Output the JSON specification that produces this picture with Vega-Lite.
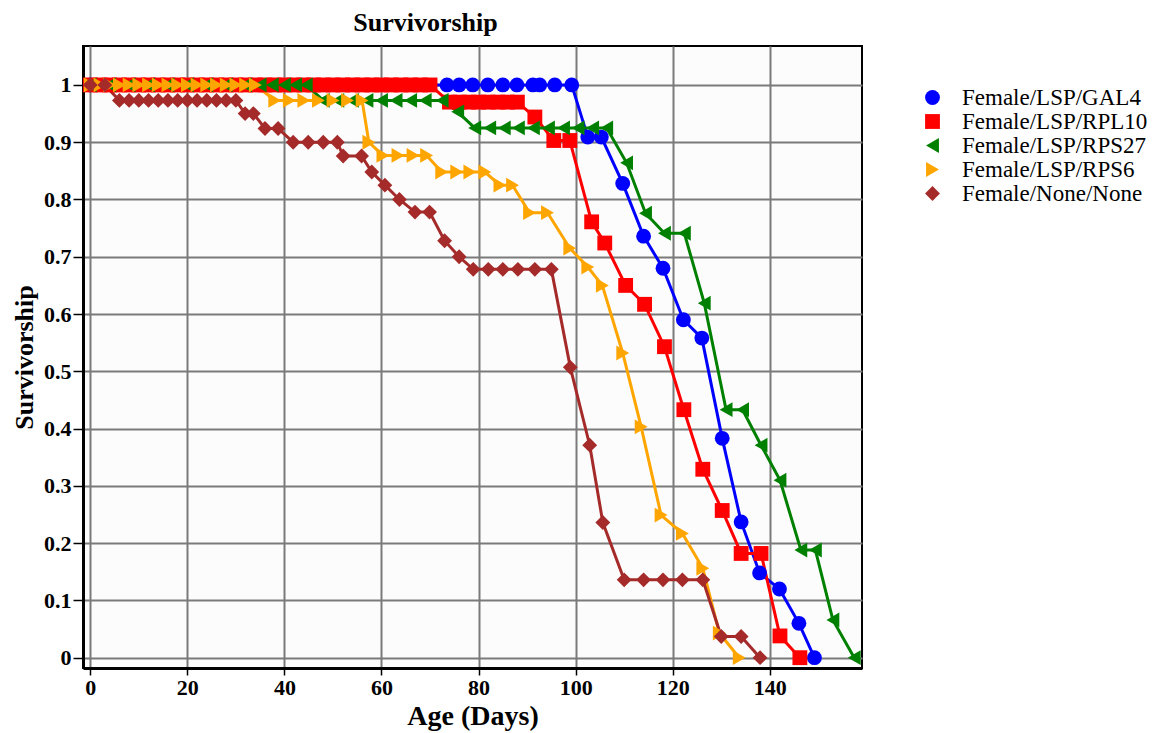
{
  "$schema": "https://vega.github.io/schema/vega-lite/v6.json",
  "autosize": "none",
  "width": 779,
  "height": 622,
  "padding": {"left": 83, "top": 46, "right": 305, "bottom": 65},
  "background": "white",
  "title": {"text": "Survivorship", "font": "Liberation Serif", "fontSize": 26, "fontWeight": "bold", "color": "black", "anchor": "middle", "dx": -47, "offset": 10},
  "config": {
    "view": {"stroke": "black", "strokeWidth": 2, "fill": "#FCFCFC"},
    "axis": {"labelFont": "Liberation Serif", "labelFontWeight": "bold", "labelColor": "black", "titleFont": "Liberation Serif", "titleFontWeight": "bold", "titleColor": "black", "domainColor": "black", "domainWidth": 3, "tickColor": "black", "tickWidth": 1.5, "gridColor": "#7a7a7a", "gridWidth": 2, "gridOpacity": 1}
  },
  "datasets": {
    "surv": [
      {"g": "Female/LSP/GAL4", "x": 0, "y": 1},
      {"g": "Female/LSP/GAL4", "x": 73.5, "y": 1},
      {"g": "Female/LSP/GAL4", "x": 76, "y": 1},
      {"g": "Female/LSP/GAL4", "x": 78.8, "y": 1},
      {"g": "Female/LSP/GAL4", "x": 81.9, "y": 1},
      {"g": "Female/LSP/GAL4", "x": 85, "y": 1},
      {"g": "Female/LSP/GAL4", "x": 87.9, "y": 1},
      {"g": "Female/LSP/GAL4", "x": 91.2, "y": 1},
      {"g": "Female/LSP/GAL4", "x": 92.6, "y": 1},
      {"g": "Female/LSP/GAL4", "x": 95.7, "y": 1},
      {"g": "Female/LSP/GAL4", "x": 99.2, "y": 1},
      {"g": "Female/LSP/GAL4", "x": 102.5, "y": 0.909},
      {"g": "Female/LSP/GAL4", "x": 105.3, "y": 0.909},
      {"g": "Female/LSP/GAL4", "x": 109.7, "y": 0.828},
      {"g": "Female/LSP/GAL4", "x": 114, "y": 0.736},
      {"g": "Female/LSP/GAL4", "x": 118, "y": 0.68},
      {"g": "Female/LSP/GAL4", "x": 122.2, "y": 0.59},
      {"g": "Female/LSP/GAL4", "x": 126, "y": 0.558},
      {"g": "Female/LSP/GAL4", "x": 130.2, "y": 0.383},
      {"g": "Female/LSP/GAL4", "x": 134.1, "y": 0.237},
      {"g": "Female/LSP/GAL4", "x": 137.9, "y": 0.148},
      {"g": "Female/LSP/GAL4", "x": 142, "y": 0.12},
      {"g": "Female/LSP/GAL4", "x": 146, "y": 0.06},
      {"g": "Female/LSP/GAL4", "x": 149.2, "y": 0},

      {"g": "Female/LSP/RPL10", "x": 0, "y": 1},
      {"g": "Female/LSP/RPL10", "x": 2, "y": 1},
      {"g": "Female/LSP/RPL10", "x": 4, "y": 1},
      {"g": "Female/LSP/RPL10", "x": 6, "y": 1},
      {"g": "Female/LSP/RPL10", "x": 8, "y": 1},
      {"g": "Female/LSP/RPL10", "x": 10, "y": 1},
      {"g": "Female/LSP/RPL10", "x": 12, "y": 1},
      {"g": "Female/LSP/RPL10", "x": 14, "y": 1},
      {"g": "Female/LSP/RPL10", "x": 16, "y": 1},
      {"g": "Female/LSP/RPL10", "x": 18, "y": 1},
      {"g": "Female/LSP/RPL10", "x": 20, "y": 1},
      {"g": "Female/LSP/RPL10", "x": 22, "y": 1},
      {"g": "Female/LSP/RPL10", "x": 24, "y": 1},
      {"g": "Female/LSP/RPL10", "x": 26, "y": 1},
      {"g": "Female/LSP/RPL10", "x": 28, "y": 1},
      {"g": "Female/LSP/RPL10", "x": 30, "y": 1},
      {"g": "Female/LSP/RPL10", "x": 32, "y": 1},
      {"g": "Female/LSP/RPL10", "x": 34, "y": 1},
      {"g": "Female/LSP/RPL10", "x": 36, "y": 1},
      {"g": "Female/LSP/RPL10", "x": 38, "y": 1},
      {"g": "Female/LSP/RPL10", "x": 40, "y": 1},
      {"g": "Female/LSP/RPL10", "x": 42, "y": 1},
      {"g": "Female/LSP/RPL10", "x": 44, "y": 1},
      {"g": "Female/LSP/RPL10", "x": 46, "y": 1},
      {"g": "Female/LSP/RPL10", "x": 48, "y": 1},
      {"g": "Female/LSP/RPL10", "x": 50, "y": 1},
      {"g": "Female/LSP/RPL10", "x": 52, "y": 1},
      {"g": "Female/LSP/RPL10", "x": 54, "y": 1},
      {"g": "Female/LSP/RPL10", "x": 56, "y": 1},
      {"g": "Female/LSP/RPL10", "x": 58, "y": 1},
      {"g": "Female/LSP/RPL10", "x": 60, "y": 1},
      {"g": "Female/LSP/RPL10", "x": 62, "y": 1},
      {"g": "Female/LSP/RPL10", "x": 64, "y": 1},
      {"g": "Female/LSP/RPL10", "x": 66, "y": 1},
      {"g": "Female/LSP/RPL10", "x": 68, "y": 1},
      {"g": "Female/LSP/RPL10", "x": 70, "y": 1},
      {"g": "Female/LSP/RPL10", "x": 74, "y": 0.97},
      {"g": "Female/LSP/RPL10", "x": 76, "y": 0.97},
      {"g": "Female/LSP/RPL10", "x": 78, "y": 0.97},
      {"g": "Female/LSP/RPL10", "x": 80, "y": 0.97},
      {"g": "Female/LSP/RPL10", "x": 82, "y": 0.97},
      {"g": "Female/LSP/RPL10", "x": 84, "y": 0.97},
      {"g": "Female/LSP/RPL10", "x": 86, "y": 0.97},
      {"g": "Female/LSP/RPL10", "x": 88, "y": 0.97},
      {"g": "Female/LSP/RPL10", "x": 91.6, "y": 0.944},
      {"g": "Female/LSP/RPL10", "x": 95.5, "y": 0.903},
      {"g": "Female/LSP/RPL10", "x": 98.8, "y": 0.903},
      {"g": "Female/LSP/RPL10", "x": 103.3, "y": 0.761},
      {"g": "Female/LSP/RPL10", "x": 106, "y": 0.724},
      {"g": "Female/LSP/RPL10", "x": 110.3, "y": 0.65},
      {"g": "Female/LSP/RPL10", "x": 114.2, "y": 0.617},
      {"g": "Female/LSP/RPL10", "x": 118.3, "y": 0.543},
      {"g": "Female/LSP/RPL10", "x": 122.3, "y": 0.433},
      {"g": "Female/LSP/RPL10", "x": 126.2, "y": 0.329},
      {"g": "Female/LSP/RPL10", "x": 130.2, "y": 0.257},
      {"g": "Female/LSP/RPL10", "x": 134.1, "y": 0.182},
      {"g": "Female/LSP/RPL10", "x": 138.2, "y": 0.182},
      {"g": "Female/LSP/RPL10", "x": 142.1, "y": 0.038},
      {"g": "Female/LSP/RPL10", "x": 146.2, "y": 0},

      {"g": "Female/LSP/RPS27", "x": 0, "y": 1},
      {"g": "Female/LSP/RPS27", "x": 4, "y": 1},
      {"g": "Female/LSP/RPS27", "x": 8, "y": 1},
      {"g": "Female/LSP/RPS27", "x": 12, "y": 1},
      {"g": "Female/LSP/RPS27", "x": 16, "y": 1},
      {"g": "Female/LSP/RPS27", "x": 20, "y": 1},
      {"g": "Female/LSP/RPS27", "x": 24, "y": 1},
      {"g": "Female/LSP/RPS27", "x": 28, "y": 1},
      {"g": "Female/LSP/RPS27", "x": 32, "y": 1},
      {"g": "Female/LSP/RPS27", "x": 35, "y": 1},
      {"g": "Female/LSP/RPS27", "x": 37.5, "y": 1},
      {"g": "Female/LSP/RPS27", "x": 40, "y": 1},
      {"g": "Female/LSP/RPS27", "x": 42.3, "y": 1},
      {"g": "Female/LSP/RPS27", "x": 44.5, "y": 1},
      {"g": "Female/LSP/RPS27", "x": 48, "y": 0.973},
      {"g": "Female/LSP/RPS27", "x": 51, "y": 0.973},
      {"g": "Female/LSP/RPS27", "x": 54, "y": 0.973},
      {"g": "Female/LSP/RPS27", "x": 57, "y": 0.973},
      {"g": "Female/LSP/RPS27", "x": 60, "y": 0.973},
      {"g": "Female/LSP/RPS27", "x": 63, "y": 0.973},
      {"g": "Female/LSP/RPS27", "x": 66, "y": 0.973},
      {"g": "Female/LSP/RPS27", "x": 69, "y": 0.973},
      {"g": "Female/LSP/RPS27", "x": 72.5, "y": 0.973},
      {"g": "Female/LSP/RPS27", "x": 75.7, "y": 0.953},
      {"g": "Female/LSP/RPS27", "x": 79.2, "y": 0.925},
      {"g": "Female/LSP/RPS27", "x": 82.3, "y": 0.925},
      {"g": "Female/LSP/RPS27", "x": 85.3, "y": 0.925},
      {"g": "Female/LSP/RPS27", "x": 88.2, "y": 0.925},
      {"g": "Female/LSP/RPS27", "x": 91.3, "y": 0.925},
      {"g": "Female/LSP/RPS27", "x": 94.4, "y": 0.925},
      {"g": "Female/LSP/RPS27", "x": 97.5, "y": 0.925},
      {"g": "Female/LSP/RPS27", "x": 100.5, "y": 0.925},
      {"g": "Female/LSP/RPS27", "x": 103.5, "y": 0.925},
      {"g": "Female/LSP/RPS27", "x": 106.4, "y": 0.925},
      {"g": "Female/LSP/RPS27", "x": 110.5, "y": 0.864},
      {"g": "Female/LSP/RPS27", "x": 114.4, "y": 0.776},
      {"g": "Female/LSP/RPS27", "x": 118.3, "y": 0.741},
      {"g": "Female/LSP/RPS27", "x": 122.4, "y": 0.741},
      {"g": "Female/LSP/RPS27", "x": 126.5, "y": 0.619},
      {"g": "Female/LSP/RPS27", "x": 131, "y": 0.433},
      {"g": "Female/LSP/RPS27", "x": 134.4, "y": 0.433},
      {"g": "Female/LSP/RPS27", "x": 138.2, "y": 0.371},
      {"g": "Female/LSP/RPS27", "x": 142.1, "y": 0.31},
      {"g": "Female/LSP/RPS27", "x": 146.4, "y": 0.188},
      {"g": "Female/LSP/RPS27", "x": 149.4, "y": 0.188},
      {"g": "Female/LSP/RPS27", "x": 153, "y": 0.066},
      {"g": "Female/LSP/RPS27", "x": 157.4, "y": 0},

      {"g": "Female/LSP/RPS6", "x": 0, "y": 1},
      {"g": "Female/LSP/RPS6", "x": 2, "y": 1},
      {"g": "Female/LSP/RPS6", "x": 4, "y": 1},
      {"g": "Female/LSP/RPS6", "x": 6, "y": 1},
      {"g": "Female/LSP/RPS6", "x": 8, "y": 1},
      {"g": "Female/LSP/RPS6", "x": 10, "y": 1},
      {"g": "Female/LSP/RPS6", "x": 12, "y": 1},
      {"g": "Female/LSP/RPS6", "x": 14, "y": 1},
      {"g": "Female/LSP/RPS6", "x": 16, "y": 1},
      {"g": "Female/LSP/RPS6", "x": 18, "y": 1},
      {"g": "Female/LSP/RPS6", "x": 20, "y": 1},
      {"g": "Female/LSP/RPS6", "x": 22, "y": 1},
      {"g": "Female/LSP/RPS6", "x": 24, "y": 1},
      {"g": "Female/LSP/RPS6", "x": 26, "y": 1},
      {"g": "Female/LSP/RPS6", "x": 28, "y": 1},
      {"g": "Female/LSP/RPS6", "x": 30, "y": 1},
      {"g": "Female/LSP/RPS6", "x": 32, "y": 1},
      {"g": "Female/LSP/RPS6", "x": 34, "y": 1},
      {"g": "Female/LSP/RPS6", "x": 38, "y": 0.973},
      {"g": "Female/LSP/RPS6", "x": 41, "y": 0.973},
      {"g": "Female/LSP/RPS6", "x": 44, "y": 0.973},
      {"g": "Female/LSP/RPS6", "x": 47, "y": 0.973},
      {"g": "Female/LSP/RPS6", "x": 50, "y": 0.973},
      {"g": "Female/LSP/RPS6", "x": 53, "y": 0.973},
      {"g": "Female/LSP/RPS6", "x": 56, "y": 0.973},
      {"g": "Female/LSP/RPS6", "x": 57.4, "y": 0.9},
      {"g": "Female/LSP/RPS6", "x": 60.3, "y": 0.877},
      {"g": "Female/LSP/RPS6", "x": 63.4, "y": 0.877},
      {"g": "Female/LSP/RPS6", "x": 66.5, "y": 0.877},
      {"g": "Female/LSP/RPS6", "x": 69.3, "y": 0.877},
      {"g": "Female/LSP/RPS6", "x": 72.4, "y": 0.848},
      {"g": "Female/LSP/RPS6", "x": 75.5, "y": 0.848},
      {"g": "Female/LSP/RPS6", "x": 78.2, "y": 0.848},
      {"g": "Female/LSP/RPS6", "x": 81.3, "y": 0.848},
      {"g": "Female/LSP/RPS6", "x": 84.4, "y": 0.825},
      {"g": "Female/LSP/RPS6", "x": 87, "y": 0.825},
      {"g": "Female/LSP/RPS6", "x": 90.5, "y": 0.777},
      {"g": "Female/LSP/RPS6", "x": 94.2, "y": 0.777},
      {"g": "Female/LSP/RPS6", "x": 98.8, "y": 0.715},
      {"g": "Female/LSP/RPS6", "x": 102.5, "y": 0.682},
      {"g": "Female/LSP/RPS6", "x": 105.5, "y": 0.65},
      {"g": "Female/LSP/RPS6", "x": 109.7, "y": 0.532},
      {"g": "Female/LSP/RPS6", "x": 113.5, "y": 0.403},
      {"g": "Female/LSP/RPS6", "x": 117.6, "y": 0.249},
      {"g": "Female/LSP/RPS6", "x": 122, "y": 0.217},
      {"g": "Female/LSP/RPS6", "x": 126.2, "y": 0.156},
      {"g": "Female/LSP/RPS6", "x": 129.6, "y": 0.043},
      {"g": "Female/LSP/RPS6", "x": 133.7, "y": 0},

      {"g": "Female/None/None", "x": 0, "y": 1},
      {"g": "Female/None/None", "x": 3, "y": 1},
      {"g": "Female/None/None", "x": 6, "y": 0.973},
      {"g": "Female/None/None", "x": 8, "y": 0.973},
      {"g": "Female/None/None", "x": 10, "y": 0.973},
      {"g": "Female/None/None", "x": 12, "y": 0.973},
      {"g": "Female/None/None", "x": 14, "y": 0.973},
      {"g": "Female/None/None", "x": 16, "y": 0.973},
      {"g": "Female/None/None", "x": 18, "y": 0.973},
      {"g": "Female/None/None", "x": 20, "y": 0.973},
      {"g": "Female/None/None", "x": 22, "y": 0.973},
      {"g": "Female/None/None", "x": 24, "y": 0.973},
      {"g": "Female/None/None", "x": 26, "y": 0.973},
      {"g": "Female/None/None", "x": 28, "y": 0.973},
      {"g": "Female/None/None", "x": 30, "y": 0.973},
      {"g": "Female/None/None", "x": 31.9, "y": 0.95},
      {"g": "Female/None/None", "x": 33.6, "y": 0.95},
      {"g": "Female/None/None", "x": 36, "y": 0.924},
      {"g": "Female/None/None", "x": 38.7, "y": 0.924},
      {"g": "Female/None/None", "x": 41.8, "y": 0.9},
      {"g": "Female/None/None", "x": 44.9, "y": 0.9},
      {"g": "Female/None/None", "x": 48, "y": 0.9},
      {"g": "Female/None/None", "x": 50.9, "y": 0.9},
      {"g": "Female/None/None", "x": 52.1, "y": 0.876},
      {"g": "Female/None/None", "x": 55.9, "y": 0.876},
      {"g": "Female/None/None", "x": 58, "y": 0.848},
      {"g": "Female/None/None", "x": 60.7, "y": 0.825},
      {"g": "Female/None/None", "x": 63.7, "y": 0.8},
      {"g": "Female/None/None", "x": 66.9, "y": 0.778},
      {"g": "Female/None/None", "x": 69.9, "y": 0.778},
      {"g": "Female/None/None", "x": 73, "y": 0.728},
      {"g": "Female/None/None", "x": 76, "y": 0.7},
      {"g": "Female/None/None", "x": 78.9, "y": 0.678},
      {"g": "Female/None/None", "x": 82, "y": 0.678},
      {"g": "Female/None/None", "x": 85, "y": 0.678},
      {"g": "Female/None/None", "x": 88.1, "y": 0.678},
      {"g": "Female/None/None", "x": 91.6, "y": 0.678},
      {"g": "Female/None/None", "x": 95, "y": 0.678},
      {"g": "Female/None/None", "x": 98.9, "y": 0.507},
      {"g": "Female/None/None", "x": 102.9, "y": 0.371},
      {"g": "Female/None/None", "x": 105.6, "y": 0.236},
      {"g": "Female/None/None", "x": 110, "y": 0.136},
      {"g": "Female/None/None", "x": 114, "y": 0.136},
      {"g": "Female/None/None", "x": 118, "y": 0.136},
      {"g": "Female/None/None", "x": 122, "y": 0.136},
      {"g": "Female/None/None", "x": 126.2, "y": 0.136},
      {"g": "Female/None/None", "x": 130, "y": 0.037},
      {"g": "Female/None/None", "x": 134.1, "y": 0.037},
      {"g": "Female/None/None", "x": 138, "y": 0}
    ]
  },
  "data": {"name": "surv"},
  "encoding": {
    "x": {"field": "x", "type": "quantitative", "scale": {"domain": [-1.5, 159], "nice": false, "zero": false},
      "axis": {"values": [0, 20, 40, 60, 80, 100, 120, 140], "title": "Age (Days)", "titleFontSize": 28, "labelFontSize": 22, "tickSize": 7, "labelPadding": 2, "titlePadding": 4, "labelFlush": false}},
    "y": {"field": "y", "type": "quantitative", "scale": {"domain": [-0.018, 1.068], "nice": false, "zero": false},
      "axis": {"values": [0, 0.1, 0.2, 0.3, 0.4, 0.5, 0.6, 0.7, 0.8, 0.9, 1], "format": ".1~f", "title": "Survivorship", "titleFontSize": 26, "labelFontSize": 22, "tickSize": 10, "labelPadding": 2, "titlePadding": 6, "labelFlush": false}},
    "color": {"field": "g", "type": "nominal", "title": null,
      "scale": {"domain": ["Female/LSP/GAL4", "Female/LSP/RPL10", "Female/LSP/RPS27", "Female/LSP/RPS6", "Female/None/None"], "range": ["#0000FF", "#FF0000", "#008000", "#FFA500", "#A52A2A"]}}
  },
  "layer": [
    {"mark": {"type": "line", "strokeWidth": 3}, "encoding": {"detail": {"field": "g"}}},
    {"mark": {"type": "point", "filled": true, "opacity": 1, "size": 220},
      "encoding": {
        "shape": {"field": "g", "type": "nominal", "title": null,
          "scale": {"domain": ["Female/LSP/GAL4", "Female/LSP/RPL10", "Female/LSP/RPS27", "Female/LSP/RPS6", "Female/None/None"], "range": ["circle", "square", "triangle-left", "triangle-right", "diamond"]},
          "legend": {"orient": "none", "legendX": 838, "legendY": 40, "symbolSize": 220, "labelFont": "Liberation Serif", "labelFontSize": 23, "labelColor": "black", "labelLimit": 400, "rowPadding": -1, "labelOffset": 18, "symbolStrokeWidth": 0, "padding": 0}}
      }}
  ]
}
